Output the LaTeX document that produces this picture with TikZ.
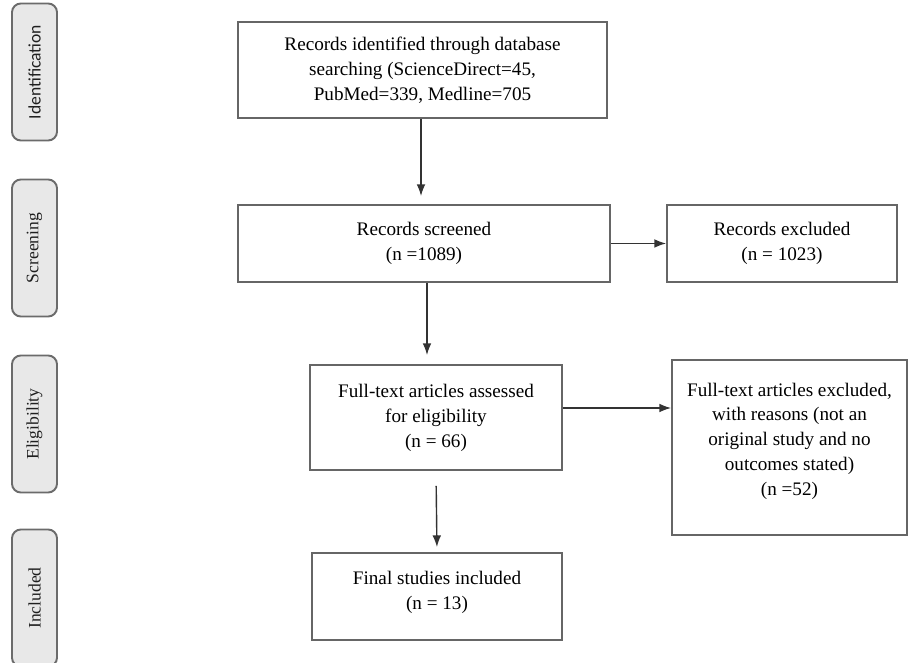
\documentclass[tikz,border=0pt]{standalone}
\usepackage{fontspec}
\setmainfont{Liberation Serif}
\newfontfamily\labelsans{Carlito}
\usetikzlibrary{arrows.meta}

\begin{document}
\begin{tikzpicture}[>=Latex,
  box/.style={draw=black!60, line width=1.1pt, align=center, font=\fontsize{10.9}{14.2}\selectfont, inner sep=2pt},
  phase/.style={draw=black!58, line width=1.1pt, fill=black!9, rounded corners=5pt, minimum width=0.9cm, minimum height=2.74cm, font=\fontsize{10}{12}\selectfont, text=black!88},
  arr/.style={->, draw=black!80, line width=0.8pt}]
\useasboundingbox (0,0) rectangle (18.18,-13.26);
% phases on the left
\foreach \y/\t/\n in {-1.44/{\labelsans Identification}/phid, -4.96/Screening/phscr, -8.48/Eligibility/phel, -11.96/Included/phinc}
  \node[phase] (\n) at (0.69,\y) {\rotatebox{90}{\t}};
% boxes
\node[box, minimum width=7.38cm, minimum height=1.92cm] (id) at (8.45,-1.40) {Records identified through database\\ searching (ScienceDirect=45,\\ PubMed=339, Medline=705};
\node[box, minimum width=7.44cm, minimum height=1.54cm] (scr) at (8.48,-4.87) {Records screened\\ (n =1089)};
\node[box, minimum width=4.60cm, minimum height=1.54cm] (excl) at (15.64,-4.87) {Records excluded\\ (n = 1023)};
\node[box, minimum width=5.04cm, minimum height=2.10cm] (full) at (8.72,-8.35) {Full-text articles assessed\\ for eligibility\\ (n = 66)};
\node[box, minimum width=4.70cm, minimum height=3.50cm] (fexcl) at (15.79,-8.95) {Full-text articles excluded,\\ with reasons (not an\\ original study and no\\ outcomes stated)\\ (n =52)\\[-0.17cm]\mbox{}};
\node[box, minimum width=5.00cm, minimum height=1.74cm] (fin) at (8.74,-11.93) {Final studies included\\ (n = 13)\\[-0.27cm]\mbox{}};
% arrows
\draw[arr, shorten >=0.16cm] ([xshift=-0.03cm]id.south) -- ([xshift=-0.03cm]id.south |- scr.north);
\draw[arr] (scr.east) -- (excl.west);
\draw[arr, shorten >=0.18cm] ([xshift=0.06cm]scr.south) -- ([xshift=0.06cm]scr.south |- full.north);
\draw[arr] ([yshift=0.19cm]full.east) -- ([yshift=0.19cm]full.east -| fexcl.west);
\draw[arr, shorten <=0.3cm, shorten >=0.1cm] (full.south) -- (fin.north);
\end{tikzpicture}
\end{document}
